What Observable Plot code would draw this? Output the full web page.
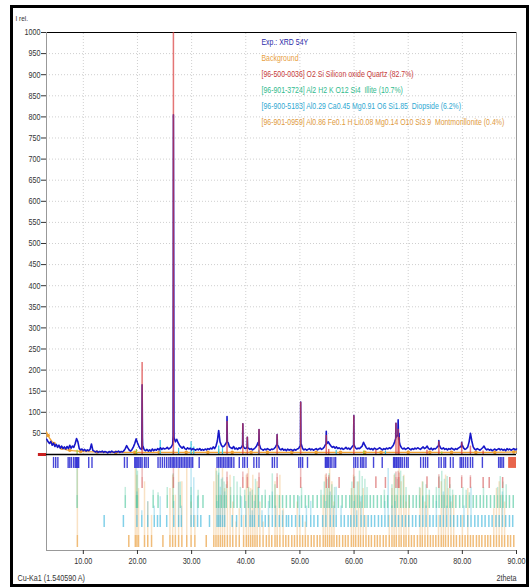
<!DOCTYPE html>
<html><head><meta charset="utf-8">
<script src="https://cdn.jsdelivr.net/npm/d3@7"></script>
<script src="https://cdn.jsdelivr.net/npm/@observablehq/plot@0.6"></script>
<style>
body{margin:0;background:#fff;}
#wrap{position:relative;width:529px;height:587px;overflow:hidden;background:#fff;}
#border{position:absolute;left:10px;top:5px;width:519px;height:582px;border:3px solid #000;box-sizing:border-box;pointer-events:none;}
</style></head><body>
<div id="wrap"><div id="chart"></div><div id="border"></div></div>
<script>
// ---------- data ----------
const xTicks = [10, 20, 30, 40, 50, 60, 70, 80, 90];
const yTicks = [50,100,150,200,250,300,350,400,450,500,550,600,650,700,750,800,850,900,950,1000];

// experimental pattern, sampled every 0.25° from 3.25°
const expStart = 3.25, expStep = 0.25;
const expI = [
  36,30,26,31,22,27,19,24,17,22,15,20,14,18,13,19,            // 3.25-7.0
  14,22,15,20,17,26,38,30,14,11,13,9,12,8,11,9,12,25,10,8,    // 7.25-12
  6,8,5,7,6,8,5,7,6,4,7,5,8,6,5,7,6,8,5,7,                    // 12.25-17
  6,9,14,21,15,10,8,12,18,26,37,28,20,14,12,20,11,9,12,8,     // 17.25-22
  11,8,13,9,12,10,14,11,16,12,15,13,14,17,13,15,18,24,40,30,  // 22.25-27
  36,28,22,18,15,19,14,12,16,13,15,11,14,12,10,13,11,14,10,12,// 27.25-32
  10,13,11,14,12,15,13,18,14,20,32,57,30,22,18,20,24,35,28,18,// 32.25-37
  16,14,19,13,15,12,16,14,18,22,15,14,20,15,12,14,11,13,16,20,// 37.25-42
  28,24,14,12,10,13,11,14,12,10,13,12,14,18,26,20,13,11,14,10,// 42.25-47
  12,9,13,10,12,11,9,12,10,13,14,20,24,14,11,13,10,12,14,11,  // 47.25-52
  13,10,12,14,11,13,15,12,14,18,24,26,30,24,20,17,19,15,18,14,// 52.25-57
  16,13,15,12,14,17,13,15,12,16,20,24,16,13,15,14,17,20,29,22,// 57.25-62
  16,13,15,12,14,11,15,13,12,14,16,13,11,14,12,15,13,16,14,18,// 62.25-67
  22,30,40,45,35,22,16,13,15,12,14,16,13,11,14,12,15,13,16,14,// 67.25-72
  12,15,18,14,16,20,14,12,15,11,14,13,16,20,22,15,13,16,12,14,// 72.25-77
  11,14,12,15,13,11,14,12,15,17,20,22,15,12,14,18,30,50,32,18,// 77.25-82
  13,11,14,12,10,13,16,20,14,11,13,10,12,9,11,13,10,12,14,11, // 82.25-87
  13,10,12,9,14,11,13,10,12,14,11,13                          // 87.25-90
];
// sharp experimental reflections
const expSpikes = [
  [20.80,14],[20.86,165],[20.92,40],[20.97,15],
  [26.58,45],[26.64,805],[26.70,417],[26.74,60],
  [36.49,30],[36.54,90],[36.60,30],
  [39.41,22],[39.46,73],[39.52,20],
  [40.24,18],[40.29,41],[40.35,16],
  [42.40,22],[42.45,59],[42.51,24],
  [45.74,24],[45.79,47],[45.85,22],
  [50.09,20],[50.14,124],[50.20,26],
  [54.82,24],[54.87,55],[54.93,26],
  [59.91,22],[59.96,92],[60.02,22],
  [67.69,38],[67.74,74],[67.80,42],
  [68.09,45],[68.14,82],[68.20,48],[68.31,50],[68.37,30],
  [75.61,20],[75.66,33],[75.72,20],
  [79.83,18],[79.88,29],[79.94,20]
];
// calculated quartz profile peaks
const quartzCalc = [
  [20.86,218],[26.64,1000],[36.54,78],[39.46,73],[40.29,41],[42.45,59],[45.79,47],
  [50.14,124],[54.87,45],[55.32,12],[59.96,92],[64.03,10],[67.74,74],[68.14,60],
  [68.31,40],[73.47,10],[75.66,30],[79.88,28],[81.49,20],[83.84,8]
];
const diopsideCalc = [[24.2,33],[27.6,15],[29.9,30],[30.4,18],[35.0,20],[35.7,14],[42.4,10],[56.7,10],[65.8,8]];
const illiteCalc = [[8.85,10],[19.8,12],[26.6,8],[35.0,12],[61.8,8],[76.2,6]];
// background
const background = [
  [3.2,53],[3.5,45],[3.8,38],[4.2,31],[4.6,26],[5.0,22],[5.5,18],[6.0,15],[6.5,13],[7.0,11],
  [7.5,10],[8.0,9],[9,8],[10,7],[12,6],[14,5],[16,5],[18,5],[20,5],[25,5],[30,5],[35,5],
  [40,5],[45,5],[50,5],[55,5],[60,5],[65,5],[70,5],[75,5],[80,5],[85,5],[90,6]
];
const bgPoints = [
  [3.5,45],[4.6,26],[6.0,15],[7.5,10],[9.5,7],[12.5,6],[16,5],[19.5,5],[24,5],[29,5],[33,5],
  [37.5,5],[41,5],[44,5],[48.5,5],[53,5],[57.5,5],[62,5],[65,5],[70,5],[74,5],[78,5],[82.5,5],[86,5],[89.5,6]
];
// peak list of the experiment (markers row)
const expPeaks = [4.5,4.9,5.3,7.2,7.5,7.8,8.2,8.5,8.7,8.85,9.0,9.15,11.0,11.6,17.6,18.1,19.5,19.7,19.9,20.1,
  20.3,20.6,20.86,21.3,21.6,22.0,23.8,24.2,24.6,25.0,25.4,25.8,26.1,26.4,26.64,26.9,27.2,27.5,27.8,28.1,
  28.4,28.7,29.0,29.3,29.6,29.9,30.2,31.4,34.7,35.0,35.3,35.6,35.9,36.2,36.54,36.8,37.1,37.4,37.8,38.8,
  39.46,39.8,40.29,41.5,42.0,42.45,44.9,45.3,45.79,49.8,50.14,50.5,51.4,54.7,54.87,55.1,55.3,55.6,55.9,
  56.3,56.6,59.96,60.3,60.7,61.2,61.5,61.8,62.2,63.6,65.2,67.3,67.5,67.74,67.9,68.14,68.31,68.6,68.9,69.3,
  69.7,70.0,72.3,72.8,73.2,73.6,75.66,76.1,76.6,76.9,77.8,78.3,79.6,79.88,80.2,80.6,81.0,81.49,81.9,83.7,
  86.7,87.0,87.3,87.6];
const excludedRanges = [[88.55, 90]];
const leftMarker = [[1.7, 3.2]];
// phase reflections: [2theta, relative stick length]
const quartzSticks = [[20.86,1],[26.64,1],[36.54,0.6],[39.46,0.6],[40.29,0.4],[42.45,0.5],[45.79,0.4],[50.14,1],
  [54.87,0.4],[55.32,0.2],[57.24,0],[59.96,1],[64.03,0.1],[65.79,0],[67.74,0.6],[68.14,0.7],[68.31,0.5],
  [73.47,0.1],[75.66,0.3],[77.67,0],[79.88,0.2],[81.49,0.2],[83.84,0],[84.96,0],[87.44,0]];
const illiteSticks = [[8.85,1],[17.75,0.3],[19.8,1],[20.0,0.9],[22.9,0.2],[23.8,0.1],[25.5,0.3],[26.6,0.8],
  [27.9,0.5],[29.9,0.3],[31.2,0.2],[32.1,0],[34.6,0.9],[35.0,1],[35.5,0.6],[36.0,0.5],[36.4,0.4],[37.2,0.3],
  [37.8,0.7],[38.4,0.5],[39.0,0.3],[39.8,0.2],[40.5,0.3],[41.2,0.2],[41.8,0.6],[42.3,0.3],[43.0,0],[43.6,0.2],
  [44.4,0],[44.9,0.8],[45.4,0.4],[46.2,0],[46.8,0],[47.5,0],[48.2,0],[48.9,0],[49.6,0],[50.3,0.3],[51.0,0],
  [51.6,0],[52.4,0],[53.2,0],[53.9,0.2],[54.5,0.5],[55.0,0.6],[55.4,0.8],[55.9,0.4],[56.4,0.3],[57.1,0],
  [57.8,0],[58.5,0],[59.2,0],[59.6,0.5],[60.1,0.7],[60.6,0.5],[61.0,0.9],[61.5,0.7],[62.0,0.6],[62.4,0.3],
  [63.0,0],[63.6,0],[64.3,0],[65.0,0],[65.6,0.2],[66.2,0],[67.0,0.4],[67.5,0.8],[68.0,0.6],[68.6,0.9],
  [69.1,0.7],[69.6,0.3],[70.2,0],[70.9,0],[71.5,0],[72.1,0.3],[72.7,0.5],[73.3,0.4],[73.9,0.2],[74.6,0],
  [75.2,0.3],[75.7,0.7],[76.2,0.9],[76.7,0.6],[77.2,0.7],[77.7,0.4],[78.2,0.2],[78.8,0],[79.5,0],[80.1,0.3],
  [80.7,0.2],[81.3,0.1],[82.0,0],[82.6,0],[83.3,0],[83.9,0.3],[84.5,0],[85.2,0],[85.9,0],[86.5,0.3],
  [87.0,0.7],[87.5,0.5],[88.1,0.4],[88.7,0],[89.4,0]];
const diopsideSticks = [[13.85,0],[17.4,0],[19.9,0.5],[20.8,0.1],[21.9,0.3],[23.1,0.2],[23.7,0],[24.2,0.4],
  [25.4,0],[26.7,0.3],[27.6,0.7],[28.1,0.2],[29.9,1],[30.4,0.8],[31.1,0.4],[31.7,0],[33.3,0],[34.7,0.3],
  [35.0,0.9],[35.3,0.6],[35.7,0.8],[36.1,0.5],[37.5,0],[38.3,0],[39.2,0.4],[40.0,0.3],[40.8,0.5],[41.2,0.1],
  [41.6,0.3],[42.4,0.6],[43.0,0.1],[43.6,0],[44.2,0.3],[44.9,0.5],[45.5,0.2],[46.2,0],[46.8,0.1],[47.5,0],
  [47.9,0],[48.5,0],[49.2,0],[49.9,0.4],[50.5,0],[51.2,0.2],[52.0,0.3],[52.6,0],[53.3,0],[54.2,0],[54.8,0.3],
  [55.6,0.5],[56.2,0.2],[56.7,0.6],[57.6,0.2],[58.2,0],[58.9,0],[59.4,0],[60.0,0.3],[60.5,0.1],[61.3,0.4],
  [61.9,0],[62.6,0],[63.2,0],[63.8,0],[64.5,0],[65.1,0],[65.7,0.3],[66.3,1],[67.0,0.2],[67.6,0.3],[68.2,0],
  [68.9,0],[69.5,0],[70.1,0],[70.8,0],[71.4,0],[72.1,0],[72.7,0.4],[73.3,0.2],[74.0,0],[74.6,0],[75.2,0.3],
  [75.9,0],[76.5,0.5],[77.1,0.2],[77.8,0.4],[78.4,0],[79.1,0],[79.7,0],[80.3,0.2],[81.0,0],[81.6,0.6],
  [82.3,0],[82.9,0],[83.6,0],[84.2,0],[84.9,0],[85.5,0],[86.2,0],[86.8,0],[87.4,0.5],[88.0,0],[88.7,0],[89.3,0]];
const montSticks = [[8.9,1],[18.4,0],[19.6,1],[19.9,0.9],[20.2,0.7],[21.3,0.8],[21.9,0.5],[22.6,0.3],[24.7,0],
  [26.0,0.7],[26.5,0.9],[27.0,0.6],[27.6,1],[28.2,0.8],[29.1,1],[29.9,0.5],[30.6,0.3],[32.7,0],[34.1,0.8],
  [34.5,1],[34.9,0.9],[35.3,0.6],[35.7,1],[36.1,0.7],[36.6,0.8],[37.1,0.9],[37.6,0.5],[38.2,0.2],[38.8,0.4],
  [39.6,0.3],[40.1,0.9],[40.5,1],[40.9,0.7],[41.3,0.9],[41.7,0.6],[42.1,0.8],[42.6,0.5],[43.2,0.2],[43.8,0],
  [44.3,0.3],[44.8,0],[45.4,0.8],[45.8,0.6],[46.3,0.9],[46.9,0.4],[47.4,0],[47.9,0],[48.5,0],[49.0,0],
  [49.5,0.5],[50.0,0.3],[50.5,0],[51.0,0.2],[51.5,0],[52.1,0],[52.6,0],[53.2,0],[53.7,0],[54.3,0.6],
  [54.7,0.9],[55.1,0.7],[55.5,1],[55.9,0.8],[56.3,0.5],[56.8,0],[57.3,0],[57.9,0],[58.4,0],[58.9,0],
  [59.5,0.7],[59.9,0.9],[60.3,0.6],[60.8,0.8],[61.2,0.5],[61.7,0.7],[62.2,0.3],[62.7,0],[63.2,0],[63.8,0],
  [64.3,0],[64.8,0],[65.4,0],[65.9,0],[66.5,0.3],[67.0,0.7],[67.4,0.9],[67.8,0.6],[68.3,1],[68.7,0.8],
  [69.2,0.9],[69.6,0.5],[70.1,0.6],[70.6,0],[71.1,0],[71.7,0],[72.2,0.7],[72.6,0.8],[73.1,0.5],[73.6,0.6],
  [74.1,0],[74.6,0],[75.1,0],[75.6,0.3],[76.1,0.8],[76.5,0.6],[76.9,0.9],[77.4,0.7],[77.9,0.5],[78.4,0.6],
  [78.9,0],[79.5,0],[80.0,0.3],[80.5,0],[81.0,0.7],[81.5,0],[82.0,0],[82.6,0],[83.1,0],[83.6,0],[84.2,0],
  [84.7,0],[85.2,0],[85.8,0.4],[86.3,0.7],[86.8,0.8],[87.3,0.6],[87.8,0.5],[88.4,0],[88.9,0],[89.5,0]];
const legendItems = [
  ["Exp.: XRD 54Y", "#2b2ba8"],
  ["Background", "#e8a040"],
  ["[96-500-0036] O2 Si Silicon oxide Quartz (82.7%)", "#c83c3c"],
  ["[96-901-3724] Al2 H2 K O12 Si4\u00a0\u00a0Illite (10.7%)", "#2fba8c"],
  ["[96-900-5183] Al0.29 Ca0.45 Mg0.91 O6 Si1.85\u00a0\u00a0Diopside (6.2%)", "#2ea8d2"],
  ["[96-901-0959] Al0.86 Fe0.1 H Li0.08 Mg0.14 O10 Si3.9\u00a0\u00a0Montmorillonite (0.4%)", "#e09a3c"]
];

// ---------- layout ----------
const X0 = 3.2, X1 = 90, Y0 = -227.5, Y1 = 1000;
const ROW_TOP = -33;
const rowExp = {top: -7, bottom: -33};
const rowQuartz = {bottom: -80.6, band: -54.5};
const rowIllite = {bottom: -128, band: -97.3};
const rowDiopside = {bottom: -173, band: -144.6};
const rowMont = {bottom: -220.4, band: -192};
const FONT = "'Liberation Sans',Arial,sans-serif";
const LEGEND_LONGEST_W = 243;   // rendered width of the longest legend line
const NARROW = 0.8;

const expData = expI.map((v, i) => [expStart + i * expStep, v]).concat(expSpikes).sort((a, b) => a[0] - b[0]);

function sticks(data, row, color, opBand, opTall) {
  return [
    Plot.ruleX(data.filter(d => d[1] > 0), {
      x: d => d[0], y1: row.band, y2: d => row.band + d[1] * (ROW_TOP - row.band),
      stroke: color, strokeOpacity: opTall, strokeWidth: 1.5
    }),
    Plot.ruleX(data, {x: d => d[0], y1: row.bottom, y2: row.band, stroke: color, strokeOpacity: opBand, strokeWidth: 1.5})
  ];
}

const grid = {stroke: "#cfcfcf", strokeDasharray: "1,2", strokeWidth: 1};
const marks = [
  Plot.ruleY(yTicks.filter(d => d < Y1), {x1: X0, x2: X1, ...grid}),
  Plot.ruleX(xTicks.filter(d => d < X1), {y1: 0, y2: Y1, ...grid}),
  Plot.ruleY([Y1], {x1: X0, x2: X1, stroke: "#000", strokeWidth: 1.2}),
  Plot.ruleX([X1], {y1: 0, y2: Y1, stroke: "#999"}),
  Plot.ruleX([X0], {y1: Y0, y2: Y1, stroke: "#999"}),
  Plot.ruleY([Y0], {x1: X0, x2: X1, stroke: "#999"}),
  Plot.axisY(yTicks, {anchor: "left", tickSize: 5, tickPadding: 1, label: null, tickFormat: d3.format("d"), color: "#333", fontSize: 9, fontFamily: FONT}),
  Plot.axisX(xTicks, {anchor: "bottom", tickSize: 4, tickPadding: 3, label: null, tickFormat: d3.format(".2f"), color: "#333", fontSize: 9, fontFamily: FONT}),
  // phase stick rows
  ...sticks(montSticks, rowMont, "#eaa040", 0.7, 0.3),
  ...sticks(diopsideSticks, rowDiopside, "#2eb0d8", 0.6, 0.3),
  ...sticks(illiteSticks, rowIllite, "#35c090", 0.55, 0.3),
  ...sticks(quartzSticks, rowQuartz, "#d86a6a", 0.7, 0.45),
  Plot.ruleX(expPeaks, {x: d => d, y1: rowExp.top, y2: rowExp.bottom, stroke: "#2525d0", strokeWidth: 1.4, strokeOpacity: 0.85}),
  Plot.rect(excludedRanges, {x1: d => d[0], x2: d => d[1], y1: rowExp.top, y2: rowExp.bottom, fill: "#e8654c"}),
  // background
  Plot.line(background, {x: d => d[0], y: d => d[1], stroke: "#f0a030", strokeWidth: 1.3}),
  Plot.dot(bgPoints, {x: d => d[0], y: d => d[1], r: 1.8, fill: "#f0a030"}),
  // small calculated phase profiles
  Plot.ruleX(illiteCalc, {x: d => d[0], y1: 0, y2: d => d[1], stroke: "#9ccc3c", strokeWidth: 1.2}),
  Plot.ruleX(diopsideCalc, {x: d => d[0], y1: 0, y2: d => d[1], stroke: "#3cc8e0", strokeWidth: 1.2}),
  // experiment
  Plot.line(expData, {x: d => d[0], y: d => d[1], stroke: "#1616c8", strokeWidth: 1.6}),
  // quartz calculated
  Plot.ruleX(quartzCalc, {x: d => d[0], y1: 0, y2: d => d[1], stroke: "#d83a3a", strokeWidth: 1.5, strokeOpacity: 0.7}),
  // zero line
  Plot.ruleY([0], {x1: X0, x2: X1, stroke: "#000", strokeWidth: 1.6}),
  Plot.ruleY(leftMarker, {y: 0, x1: d => d[0], x2: d => d[1], stroke: "#c82020", strokeWidth: 3}),
  // legend
  ...legendItems.map(([t, c], i) => Plot.text([t], {
    text: d => d, frameAnchor: "top-left", dx: 215, dy: 10 + i * 16, textAnchor: "start",
    lineAnchor: "middle", fill: c, fontSize: 8.5, fontFamily: FONT
  })),
  Plot.text(["I rel."], {text: d => d, frameAnchor: "top-left", dx: -31, dy: -14, textAnchor: "start", lineAnchor: "middle", fill: "#333", fontSize: 8, fontFamily: FONT}),
  Plot.text(["Cu-Ka1 (1.540590 A)"], {text: d => d, frameAnchor: "bottom-left", dx: -29, dy: 28, textAnchor: "start", lineAnchor: "middle", fill: "#333", fontSize: 9, fontFamily: FONT}),
  Plot.text(["2theta"], {text: d => d, frameAnchor: "bottom-right", dx: 0, dy: 28, textAnchor: "end", lineAnchor: "middle", fill: "#333", fontSize: 9, fontFamily: FONT})
];

const chart = Plot.plot({
  width: 529, height: 587,
  marginLeft: 46, marginRight: 13, marginTop: 32, marginBottom: 37,
  x: {domain: [X0, X1]},
  y: {domain: [Y0, Y1]},
  style: {fontFamily: FONT, fontSize: "9px", background: "transparent", color: "#333"},
  marks
});
document.getElementById("chart").appendChild(chart);

// emulate the narrow typeface of the original software: squeeze each text horizontally around its anchor
const legendTexts = legendItems.map(d => d[0]);
const texts = Array.from(chart.querySelectorAll("text"));
const longest = texts.find(t => t.textContent === legendTexts[legendTexts.length - 1]);
const legendK = longest ? LEGEND_LONGEST_W / longest.getComputedTextLength() : NARROW;
texts.forEach(t => {
  const b = t.getBBox();
  if (!b.width) return;
  const k = legendTexts.includes(t.textContent) ? legendK : NARROW;
  const anchor = getComputedStyle(t).textAnchor;
  const ax = anchor === "end" ? b.x + b.width : anchor === "middle" ? b.x + b.width / 2 : b.x;
  const prev = t.getAttribute("transform") || "";
  t.setAttribute("transform", `${prev} translate(${ax},0) scale(${k},1) translate(${-ax},0)`.trim());
});
</script>
</body></html>
